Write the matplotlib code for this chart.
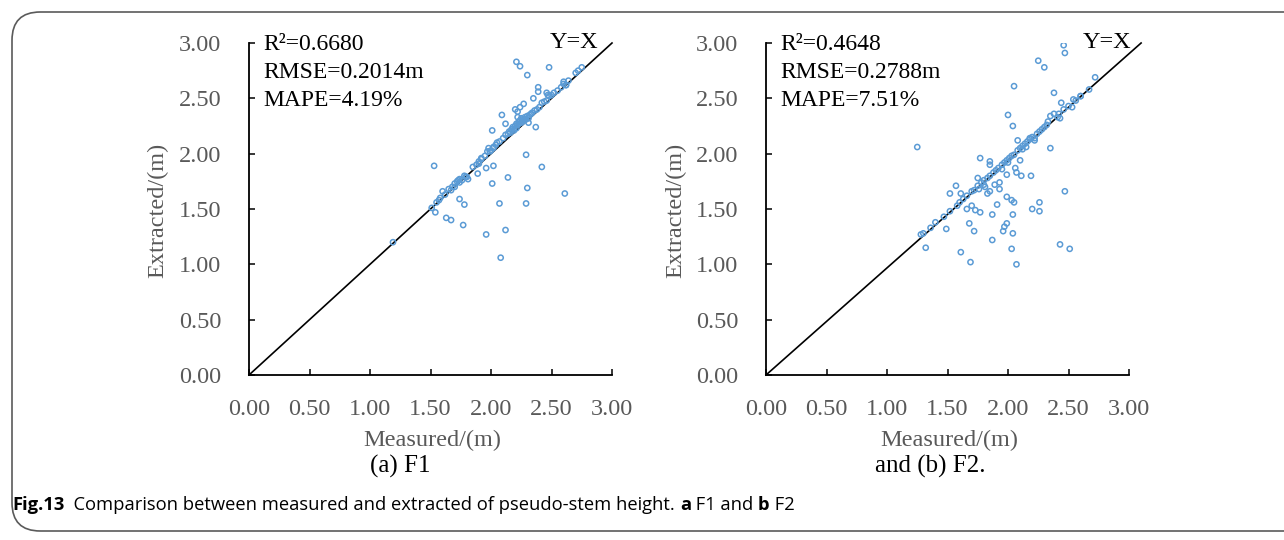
import matplotlib
matplotlib.use("Agg")
import matplotlib.pyplot as plt
from matplotlib.patches import FancyBboxPatch
import numpy as np

# ---------------- data ----------------
ticks = [0.0, 0.5, 1.0, 1.5, 2.0, 2.5, 3.0]
tick_labels = ["0.00", "0.50", "1.00", "1.50", "2.00", "2.50", "3.00"]

f1_x = [2.21, 2.24, 2.48, 2.30, 2.39, 2.39, 2.46, 2.47, 2.35, 2.27, 2.24, 2.20, 2.22, 2.09, 2.22,
        2.12, 2.01, 2.37, 1.53, 2.29, 2.42, 2.14, 2.30, 2.61, 2.01, 1.89, 1.96, 2.02, 1.74, 1.78,
        2.07, 2.29, 1.60, 1.57, 1.54, 1.63, 1.67, 1.77, 1.96, 2.12, 2.08,
        1.19, 1.51, 1.55, 1.58, 1.62, 1.65, 1.68, 1.70, 1.72, 1.74, 1.76, 1.78, 1.80, 1.85, 1.88,
        1.90, 1.92, 1.95, 1.97, 1.98, 2.00, 2.02, 2.04, 2.05, 2.07, 2.10, 2.12, 2.14, 2.15, 2.17,
        2.18, 2.19, 2.20, 2.21, 2.22, 2.23, 2.24, 2.25, 2.25, 2.26, 2.27, 2.28, 2.29, 2.30, 2.31,
        2.32, 2.34, 2.36, 2.38, 2.40, 2.42, 2.44, 2.46, 2.48, 2.50, 2.52, 2.55, 2.58, 2.60, 2.62,
        2.64, 2.70, 2.72, 2.75, 2.60, 2.62, 1.73, 1.74, 1.67, 1.70, 1.81, 1.79, 1.90, 1.92, 1.99,
        2.02, 2.23, 2.26, 2.28, 2.31, 2.33, 2.21, 2.19, 2.16]
f1_y = [2.83, 2.79, 2.78, 2.71, 2.60, 2.56, 2.55, 2.53, 2.50, 2.45, 2.42, 2.40, 2.38, 2.35, 2.33,
        2.27, 2.21, 2.24, 1.89, 1.99, 1.88, 1.785, 1.69, 1.64, 1.73, 1.82, 1.87, 1.89, 1.59, 1.54,
        1.55, 1.55, 1.66, 1.58, 1.47, 1.42, 1.40, 1.355, 1.27, 1.31, 1.06,
        1.20, 1.51, 1.56, 1.60, 1.63, 1.68, 1.70, 1.73, 1.75, 1.77, 1.76, 1.80, 1.79, 1.88, 1.90,
        1.93, 1.95, 1.98, 2.02, 2.05, 2.03, 2.06, 2.08, 2.10, 2.11, 2.14, 2.17, 2.18, 2.20, 2.22,
        2.24, 2.21, 2.25, 2.27, 2.26, 2.29, 2.30, 2.28, 2.32, 2.31, 2.30, 2.33, 2.31, 2.34, 2.32,
        2.35, 2.37, 2.39, 2.40, 2.42, 2.46, 2.47, 2.48, 2.52, 2.53, 2.55, 2.57, 2.60, 2.63, 2.62,
        2.66, 2.73, 2.75, 2.78, 2.65, 2.62, 1.76, 1.74, 1.67, 1.70, 1.77, 1.79, 1.91, 1.96, 2.02,
        2.05, 2.27, 2.29, 2.31, 2.28, 2.36, 2.23, 2.22, 2.19]

f2_x = [2.46, 2.47, 2.25, 2.30, 2.72, 2.05, 2.38, 2.67, 2.44, 2.54, 2.53, 2.60, 2.00, 2.04, 2.35,
        2.38, 2.41, 2.43, 2.33, 1.25, 2.35, 2.08, 1.77, 1.85, 2.10,
        1.85, 2.06, 2.07, 2.11, 2.19, 1.99, 1.75, 1.57, 1.52, 1.61, 2.47, 1.93, 1.81, 1.85, 1.89,
        1.83, 1.93, 1.99, 2.03, 2.05, 1.91, 2.26, 2.20, 2.26, 1.66, 1.70, 1.73, 1.77, 1.87, 2.04,
        1.60, 1.68, 1.72, 1.49, 1.99, 1.97, 1.96, 2.04, 1.87, 1.28, 1.32, 1.61, 1.69, 2.03, 2.07,
        2.43, 2.51,
        1.30, 1.36, 1.40, 1.47, 1.52, 1.58, 1.63, 1.66, 1.70, 1.72, 1.75, 1.78, 1.80, 1.83, 1.85,
        1.88, 1.90, 1.92, 1.95, 1.97, 1.99, 2.01, 2.03, 2.05, 2.08, 2.10, 2.12, 2.14, 2.16, 2.18,
        2.20, 2.22, 2.24, 2.26, 2.28, 2.30, 2.32, 2.42, 2.46, 2.50, 2.56, 2.60, 2.15, 2.18, 2.22,
        1.95, 2.00, 2.12, 1.76, 1.80]
f2_y = [2.98, 2.91, 2.84, 2.78, 2.69, 2.61, 2.55, 2.58, 2.46, 2.49, 2.42, 2.52, 2.35, 2.25, 2.34,
        2.36, 2.33, 2.32, 2.29, 2.06, 2.05, 2.12, 1.96, 1.93, 1.94,
        1.90, 1.87, 1.83, 1.80, 1.80, 1.81, 1.78, 1.71, 1.64, 1.64, 1.66, 1.74, 1.70, 1.66, 1.72,
        1.64, 1.68, 1.61, 1.58, 1.56, 1.54, 1.56, 1.50, 1.48, 1.50, 1.53, 1.49, 1.47, 1.45, 1.45,
        1.56, 1.37, 1.30, 1.32, 1.37, 1.34, 1.30, 1.28, 1.22, 1.27, 1.15, 1.11, 1.02, 1.14, 1.00,
        1.18, 1.14,
        1.28, 1.33, 1.38, 1.43, 1.48, 1.53, 1.59, 1.62, 1.66, 1.67, 1.71, 1.74, 1.76, 1.78, 1.80,
        1.83, 1.85, 1.87, 1.90, 1.92, 1.94, 1.96, 1.98, 1.99, 2.03, 2.05, 2.07, 2.09, 2.11, 2.13,
        2.15, 2.14, 2.18, 2.20, 2.22, 2.24, 2.26, 2.36, 2.40, 2.43, 2.48, 2.52, 2.06, 2.14, 2.12,
        1.86, 1.92, 2.04, 1.68, 1.72]

f1_line_x = [0.0, 3.0]
f1_line_y = [0.0, 3.0]
f2_line_x = [0.0, 3.1]
f2_line_y = [0.0, 3.0]

f1_stats = ["R\u00b2=0.6680", "RMSE=0.2014m", "MAPE=4.19%"]
f2_stats = ["R\u00b2=0.4648", "RMSE=0.2788m", "MAPE=7.51%"]

# ---------------- figure ----------------
W, H = 1284, 540
fig = plt.figure(figsize=(W / 100, H / 100), dpi=100)
SERIF = ["Liberation Serif", "DejaVu Serif"]
GREY = "#595959"
BLUE = "#5B9BD5"


def fx(px):
    return px / W


def fy(py):
    return 1 - py / H


# border (rounded box, extends beyond right edge)
box = FancyBboxPatch((fx(12), fy(531)), fx(1320) - fx(12), fy(12) - fy(531),
                     boxstyle="round,pad=0,rounding_size=0.022",
                     transform=fig.transFigure, facecolor="none",
                     edgecolor="#5a5a5a", linewidth=1.2, mutation_aspect=W / H)
fig.patches.append(box)


def make_axes(x0_px, xs, ys, lx, ly, stats, yx_right_px):
    ax = fig.add_axes([fx(x0_px), fy(375), 363 / W, 332 / H])
    ax.scatter(xs, ys, s=14, facecolors="none", edgecolors=BLUE, linewidths=1.1, zorder=3)
    ax.plot(lx, ly, color="black", linewidth=1.2, clip_on=False, zorder=2)
    ax.set_xlim(0, 3)
    ax.set_ylim(0, 3)
    ax.set_xticks(ticks)
    ax.set_yticks(ticks)
    ax.set_xticklabels(tick_labels)
    ax.set_yticklabels(tick_labels)
    for lab in ax.get_xticklabels() + ax.get_yticklabels():
        lab.set_family(SERIF)
        lab.set_fontsize(17.5)
        lab.set_color(GREY)
    ax.tick_params(axis="both", direction="in", length=4, width=1.1, color="black")
    ax.tick_params(axis="y", pad=20)
    ax.tick_params(axis="x", pad=17)
    for s in ["top", "right"]:
        ax.spines[s].set_visible(False)
    for s in ["left", "bottom"]:
        ax.spines[s].set_linewidth(1.3)
        ax.spines[s].set_color("black")
    ax.patch.set_alpha(0)
    # stats text
    for i, t in enumerate(stats):
        fig.text(fx(x0_px + 14), fy(45 + 28 * i), t, family=SERIF, fontsize=17,
                 color="black", ha="left", va="center")
    fig.text(fx(yx_right_px), fy(43), "Y=X", family=SERIF, fontsize=17.5,
             color="black", ha="right", va="center")
    return ax


make_axes(249, f1_x, f1_y, f1_line_x, f1_line_y, f1_stats, 598)
make_axes(766, f2_x, f2_y, f2_line_x, f2_line_y, f2_stats, 1131)

# axis labels
for xc in (432, 949):
    fig.text(fx(xc), fy(440), "Measured/(m)", family=SERIF, fontsize=17.5,
             color=GREY, ha="center", va="center")
for xc in (158, 676):
    fig.text(fx(xc), fy(210), "Extracted/(m)", family=SERIF, fontsize=17.5,
             color=GREY, ha="center", va="center", rotation=90)

# sub captions
fig.text(fx(400), fy(466), "(a) F1", family=SERIF, fontsize=18, color="black",
         ha="center", va="center")
fig.text(fx(930), fy(466), "and (b) F2.", family=SERIF, fontsize=18, color="black",
         ha="center", va="center")

# figure caption built from pieces
pieces = [("Fig.13", "bold"), ("  Comparison between measured and extracted of pseudo-stem height. ", "normal"),
          ("a", "bold"), (" F1 and ", "normal"), ("b", "bold"), (" F2", "normal")]
fig.canvas.draw()
renderer = fig.canvas.get_renderer()
x = 12
cap_size = 13.2
for txt, wt in pieces:
    t = fig.text(fx(x), fy(505), txt, family=["Open Sans", "DejaVu Sans"], fontsize=cap_size,
                 fontweight=wt, color="black", ha="left", va="center")
    bb = t.get_window_extent(renderer)
    x += bb.width

fig.savefig("out.png", dpi=100)
